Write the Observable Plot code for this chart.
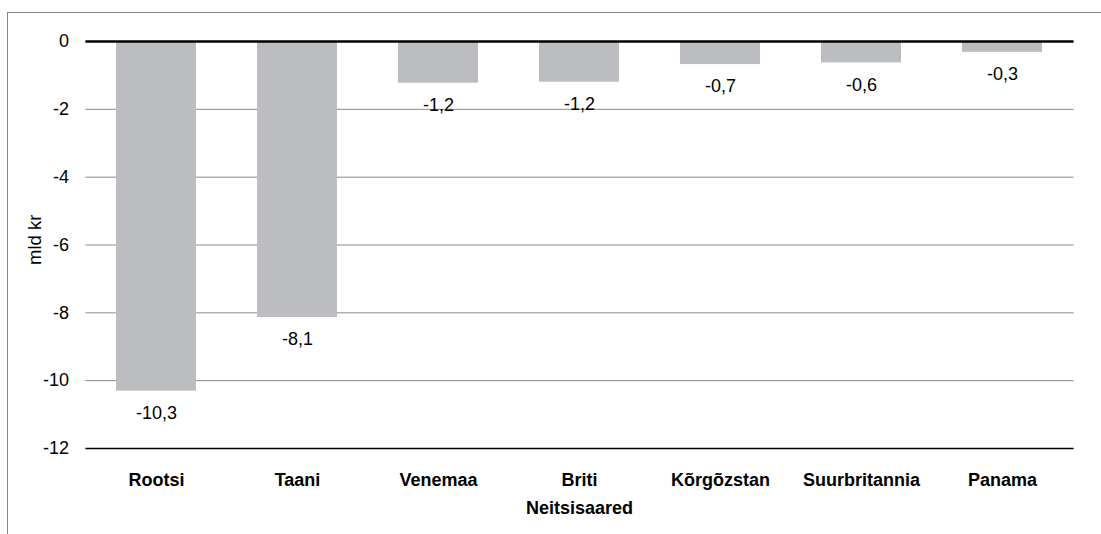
<!DOCTYPE html>
<html>
<head>
<meta charset="utf-8">
<script src="https://cdn.jsdelivr.net/npm/d3@7"></script>
<script src="https://cdn.jsdelivr.net/npm/@observablehq/plot@0.6"></script>
<style>
  html, body { margin: 0; padding: 0; background: #fff; overflow: hidden; }
  #frame {
    position: absolute; left: 7px; top: 12px;
    border-left: 1px solid #888; border-top: 1px solid #888;
    width: 1093px; height: 521px;
  }
  #frame svg { display: block; }
</style>
</head>
<body>
<div id="frame"></div>
<script>
const categories = ["Rootsi", "Taani", "Venemaa", "Briti Neitsisaared", "Kõrgõzstan", "Suurbritannia", "Panama"];
const tickLabels = ["Rootsi", "Taani", "Venemaa", "Briti\nNeitsisaared", "Kõrgõzstan", "Suurbritannia", "Panama"];
const values = [-10.31, -8.14, -1.23, -1.2, -0.68, -0.63, -0.32];
const yTicks = [0, -2, -4, -6, -8, -10, -12];

const data = categories.map((c, i) => ({category: c, value: values[i]}));
const fmt = v => d3.format(".1f")(v).replace(".", ",").replace("−", "-");
const labelOf = new Map(categories.map((c, i) => [c, tickLabels[i]]));

const chart = Plot.plot({
  width: 1093,
  height: 521,
  marginLeft: 77.4,
  marginRight: 27.4,
  marginTop: 28,
  marginBottom: 86,
  style: {fontFamily: "'Liberation Sans', Arial, sans-serif", background: "#fff", color: "#000"},
  x: {domain: categories, paddingInner: 0.43, paddingOuter: 0.215, label: null},
  y: {domain: [-12, 0], label: null},
  marks: [
    Plot.ruleY(yTicks.filter(d => d !== 0 && d !== -12), {stroke: "#8a8a8a", strokeWidth: 1}),
    Plot.barY(data, {x: "category", y: "value", fill: "#bcbdc1"}),
    Plot.ruleY([-12], {stroke: "#000", strokeWidth: 1.5}),
    Plot.ruleY([0], {stroke: "#000", strokeWidth: 2.5}),
    Plot.text(data, {x: "category", y: "value", text: d => fmt(d.value), dy: 22, fontSize: 18, fill: "#000"}),
    Plot.axisY({ticks: yTicks, tickSize: 0, tickPadding: 17, tickFormat: d => String(d), fontSize: 18, label: null}),
    Plot.axisX({tickSize: 0, tickPadding: 18, tickFormat: d => labelOf.get(d), fontSize: 18, fontWeight: "bold", lineHeight: 1.55, label: null}),
    Plot.text(["mld kr"], {frameAnchor: "left", dx: -51, dy: 20, rotate: -90, fontSize: 18.5, fill: "#000"})
  ]
});
document.getElementById("frame").appendChild(chart);
</script>
</body>
</html>
